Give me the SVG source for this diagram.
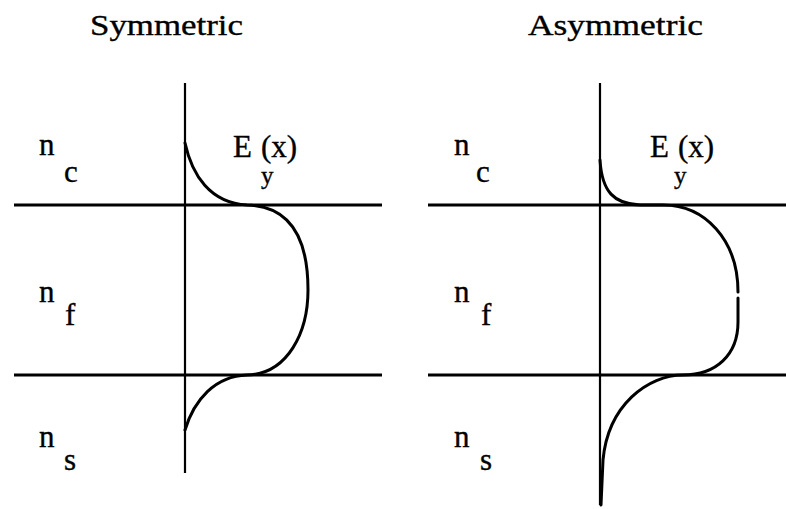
<svg xmlns="http://www.w3.org/2000/svg" width="786" height="509" viewBox="0 0 786 509">
<style>
.t{font-family:"Liberation Serif",serif;font-size:31px;fill:#000;stroke:#000;stroke-width:0.35}
.h{font-family:"Liberation Serif",serif;font-size:30px;fill:#000;stroke:#000;stroke-width:0.35}
.s{font-family:"Liberation Serif",serif;font-size:25px;fill:#000;stroke:#000;stroke-width:0.35}
.ax{stroke:#000;stroke-width:2.2;fill:none}
.hl{stroke:#000;stroke-width:3.2;fill:none}
.cv{stroke:#000;stroke-width:3;fill:none;stroke-linecap:round}
</style>
<rect width="786" height="509" fill="#fff"/>
<g id="symmetric">
<text class="h" x="90" y="35" textLength="153" lengthAdjust="spacingAndGlyphs">Symmetric</text>
<line class="ax" x1="185" y1="83" x2="185" y2="473"/>
<line class="hl" x1="14" y1="205" x2="382" y2="205"/>
<line class="hl" x1="14" y1="375" x2="382" y2="375"/>
<path class="cv" d="M185,143 C192,175 210,203 247,205 C292,206 308,240 308,290 C308,332 288,374 247,375 C215,376 194,400 185,430"/>
<text class="t" x="39" y="155">n</text><text class="t" x="64" y="182">c</text>
<text class="t" x="39" y="302">n</text><text class="t" x="65" y="325">f</text>
<text class="t" x="39" y="447">n</text><text class="t" x="64" y="470">s</text>
<text class="t" x="233" y="157">E</text><text class="t" x="261" y="157">(x)</text><text class="s" x="261" y="184">y</text>
</g>
<g id="asymmetric">
<text class="h" x="528" y="35" textLength="175" lengthAdjust="spacingAndGlyphs">Asymmetric</text>
<line class="ax" x1="600" y1="83" x2="600" y2="505"/>
<line class="hl" x1="428" y1="205" x2="786" y2="205"/>
<line class="hl" x1="428" y1="375" x2="786" y2="375"/>
<path class="cv" d="M600,160 C602,192 614,204 640,205 L663,205 C705,205 738,240 738,292"/>
<path class="cv" d="M738,298 L738,322 C738,355 716,375 683,375 C648,375 608,405 603,460 L601,505"/>
<text class="t" x="454" y="155">n</text><text class="t" x="476" y="182">c</text>
<text class="t" x="454" y="302">n</text><text class="t" x="481" y="325">f</text>
<text class="t" x="454" y="447">n</text><text class="t" x="480" y="470">s</text>
<text class="t" x="650" y="157">E</text><text class="t" x="678" y="157">(x)</text><text class="s" x="674" y="184">y</text>
</g>
</svg>
